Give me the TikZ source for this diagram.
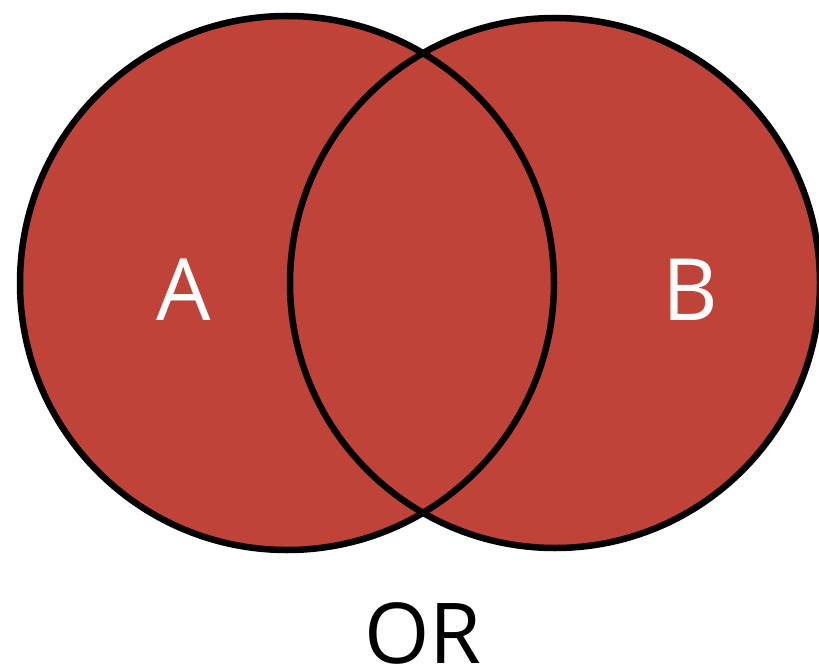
\documentclass[tikz,border=0pt]{standalone}
\usepackage{fontspec}
\setmainfont{Open Sans}
\definecolor{vennred}{RGB}{192,67,57}
\begin{document}
\begin{tikzpicture}[x=1pt,y=-1pt,
  setfill/.style={fill=vennred,draw=none},
  setline/.style={draw=black,line width=6.5pt},
  setlabel/.style={text=white,font=\fontsize{86}{86}\selectfont,inner sep=0pt,anchor=base},
  oplabel/.style={text=black,font=\fontsize{84}{84}\selectfont,inner sep=0pt,anchor=base}]
\useasboundingbox (0,0) rectangle (819,671);
\clip (0,0) rectangle (819,671);
\fill[setfill] (287,283) circle[radius=267];
\fill[setfill] (555,283) circle[radius=265];
\draw[setline] (287,283) circle[radius=267];
\draw[setline] (555,283) circle[radius=265];
\node[setlabel] (A) at (184,320) {A};
\node[setlabel] (B) at (690,320) {B};
\node[oplabel] (OR) at (423,663) {OR};
\end{tikzpicture}
\end{document}
